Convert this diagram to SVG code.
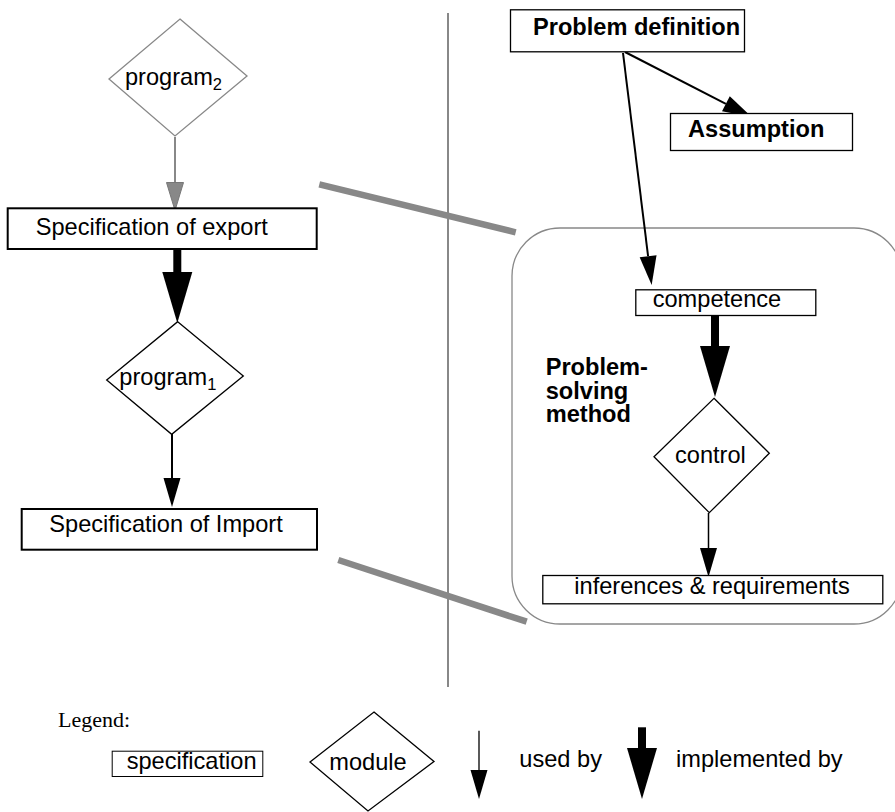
<svg xmlns="http://www.w3.org/2000/svg" width="895" height="812" viewBox="0 0 895 812">
<defs>
<style>
.t{font-family:"Liberation Sans",Arial,Helvetica,sans-serif;font-size:23.6px;fill:#000}
.b{font-weight:bold}
.box{fill:#fff;stroke:#000;stroke-width:1.3}
.box2{fill:#fff;stroke:#000;stroke-width:2}
.dia{fill:#fff;stroke:#000;stroke-width:1.3}
.gdia{fill:#fff;stroke:#888;stroke-width:1.3}
.thin{stroke:#000;stroke-width:2;fill:none}
.thick{stroke:#000;stroke-width:8;fill:none}
.grey{stroke:#888;fill:none}
.leg{font-family:"Liberation Serif","Times New Roman",serif;font-size:22px;fill:#000}
</style>
<marker id="ah" markerUnits="userSpaceOnUse" markerWidth="29" markerHeight="17" refX="0" refY="8.5" orient="auto" overflow="visible">
<path d="M0,0 L29,8.5 L0,17 z" fill="#000"/>
</marker>
<marker id="ahg" markerUnits="userSpaceOnUse" markerWidth="29" markerHeight="17" refX="0" refY="8.5" orient="auto" overflow="visible">
<path d="M0,0 L28,8.5 L0,17 z" fill="#888" stroke="#777" stroke-width="1"/>
</marker>
<marker id="ahT" markerUnits="userSpaceOnUse" markerWidth="51" markerHeight="30" refX="0" refY="15" orient="auto" overflow="visible">
<path d="M0,0 L51,15 L0,30 z" fill="#000"/>
</marker>
</defs>

<g id="dividers">
<line class="grey" x1="448" y1="13" x2="448" y2="687" stroke-width="2"/>
<line class="grey" x1="319.3" y1="184.3" x2="515.7" y2="232.3" stroke-width="6.5"/>
<line class="grey" x1="338.3" y1="560" x2="526.7" y2="621.7" stroke-width="6.5"/>
</g>

<g id="psm">
<rect x="512" y="228" width="390" height="396" rx="48" ry="48" fill="none" stroke="#888" stroke-width="1.3"/>
<text class="t b"><tspan x="545.7" y="375">Problem-</tspan><tspan x="545.7" y="398.5">solving</tspan><tspan x="545.7" y="422">method</tspan></text>
</g>

<g id="connectors">
<line x1="175" y1="137" x2="175" y2="182.5" stroke="#888" stroke-width="2" marker-end="url(#ahg)"/>
<line class="thick" x1="177.3" y1="250" x2="177.3" y2="272" marker-end="url(#ahT)"/>
<line class="thin" x1="172" y1="434" x2="172" y2="478" marker-end="url(#ah)"/>
<line class="thin" x1="625" y1="52" x2="725.9" y2="103.8" marker-end="url(#ah)"/>
<line class="thin" x1="623" y1="53" x2="648.1" y2="256.2" marker-end="url(#ah)"/>
<line class="thick" x1="715" y1="316" x2="715" y2="346" marker-end="url(#ahT)"/>
<line x1="708.5" y1="513" x2="708.5" y2="548" stroke="#000" stroke-width="1.5" marker-end="url(#ah)"/>
</g>

<g id="program2">
<polygon class="gdia" points="180,19 247,76 175,136 109,79"/>
<text class="t" x="125" y="85">program<tspan dy="5" font-size="16.5px">2</tspan></text>
</g>

<g id="spec-export">
<rect class="box2" x="7.7" y="208.3" width="309" height="40.7"/>
<text class="t" x="35.7" y="235">Specification of export</text>
</g>

<g id="program1">
<polygon class="dia" points="177.7,321.7 243.3,376 171.7,434.3 106.7,380"/>
<text class="t" x="119.3" y="385">program<tspan dy="4.5" font-size="16.5px">1</tspan></text>
</g>

<g id="spec-import">
<rect class="box2" x="21.7" y="509" width="295.3" height="40.7"/>
<text class="t" x="49.3" y="532.3">Specification of Import</text>
</g>

<g id="problem-definition">
<rect class="box" x="510.5" y="9.8" width="234" height="42"/>
<text class="t b" x="533" y="35">Problem definition</text>
</g>

<g id="assumption">
<rect class="box" x="670.5" y="113.5" width="182" height="37"/>
<text class="t b" x="688" y="137.3">Assumption</text>
</g>

<g id="competence">
<rect class="box" x="635.8" y="289.8" width="180" height="25.7"/>
<text class="t" x="652.7" y="307">competence</text>
</g>

<g id="control">
<polygon class="dia" points="714,398.3 769.3,453.3 709.3,512.7 654,456.7"/>
<text class="t" x="675" y="462.7">control</text>
</g>

<g id="inferences">
<rect class="box" x="542.8" y="575.5" width="340" height="28.3"/>
<text class="t" x="574.3" y="594.3">inferences &amp; requirements</text>
</g>

<g id="legend">
<text class="leg" x="58" y="727">Legend:</text>
<rect x="112.2" y="751.2" width="150.6" height="25.3" fill="#fff" stroke="#000" stroke-width="1"/>
<text class="t" x="126.7" y="769">specification</text>
<polygon class="dia" points="374,712 434,761.5 368,811 310,762"/>
<text class="t" x="329.3" y="770">module</text>
<line x1="479" y1="730.7" x2="479" y2="770" stroke="#000" stroke-width="1.3" marker-end="url(#ah)"/>
<text class="t" x="519.3" y="766.7">used by</text>
<line class="thick" x1="642" y1="727.3" x2="642" y2="748" marker-end="url(#ahT)"/>
<text class="t" x="676" y="766.7">implemented by</text>
</g>
</svg>
